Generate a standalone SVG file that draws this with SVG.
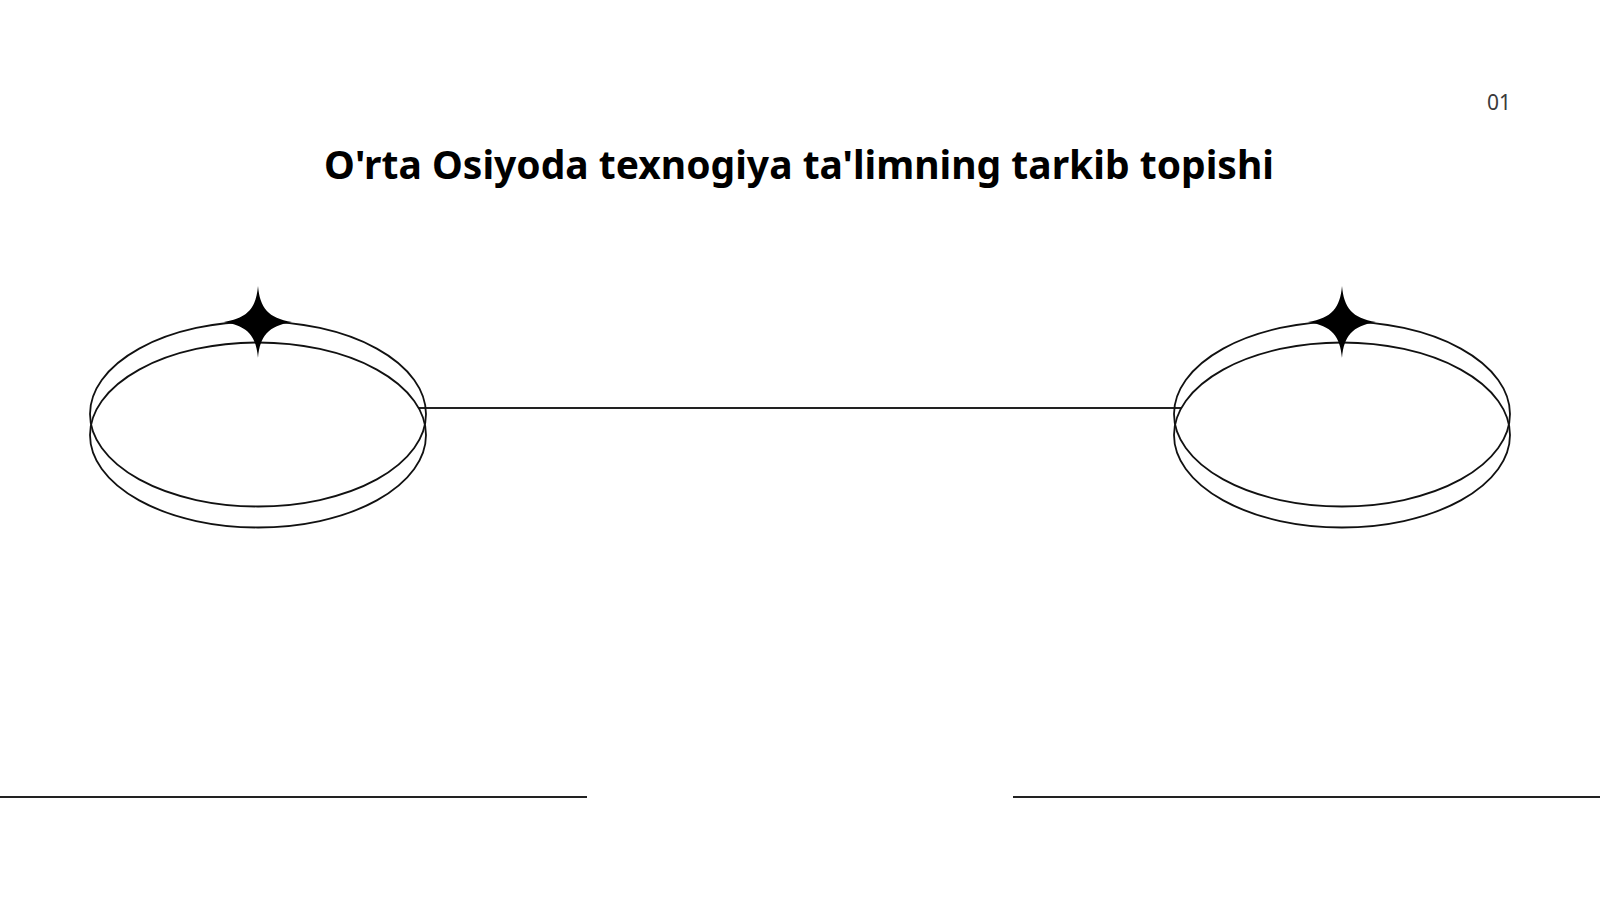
<svg xmlns="http://www.w3.org/2000/svg" width="1600" height="900" viewBox="0 0 1600 900">
  <style>
    .ring { fill: none; stroke: #111; stroke-width: 1.8; }
    .rule { stroke: #222; stroke-width: 2; }
    .title { font-family: "Noto Sans", "Open Sans", "Liberation Sans", sans-serif; font-weight: 700; font-size: 39px; fill: #000; }
    .num { font-family: "Noto Sans", "Open Sans", "Liberation Sans", sans-serif; font-size: 21px; fill: #3a3a3a; }
  </style>
  <defs>
    <path id="star" d="M0,-36 C2,-14 10,-4 34,0 C10,4 2,14 0,36 C-2,14 -10,4 -34,0 C-10,-4 -2,-14 0,-36 Z" fill="#000"/>
  </defs>
  <rect width="1600" height="900" fill="#fff"/>
  <text class="num" x="1499" y="110" text-anchor="middle">01</text>
  <text class="title" x="799" y="179" text-anchor="middle">O'rta Osiyoda texnogiya ta'limning tarkib topishi</text>

  <g id="connectors">
    <line class="rule" x1="418" y1="408" x2="1181" y2="408" stroke-width="1.8"/>
    <line class="rule" x1="0" y1="797" x2="587" y2="797"/>
    <line class="rule" x1="1013" y1="797" x2="1600" y2="797"/>
  </g>

  <g id="node-left">
    <ellipse class="ring" cx="258" cy="414" rx="168" ry="92.5"/>
    <ellipse class="ring" cx="258" cy="435" rx="168" ry="92.5"/>
    <use href="#star" x="258" y="322"/>
  </g>

  <g id="node-right">
    <ellipse class="ring" cx="1342" cy="414" rx="168" ry="92.5"/>
    <ellipse class="ring" cx="1342" cy="435" rx="168" ry="92.5"/>
    <use href="#star" x="1342" y="322"/>
  </g>
</svg>
